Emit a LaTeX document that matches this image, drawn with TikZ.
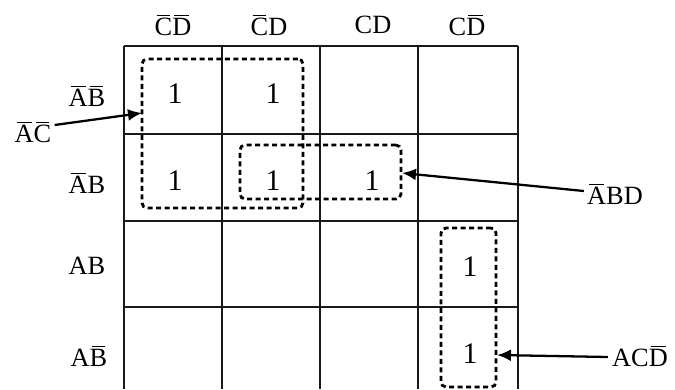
\documentclass[tikz,border=0pt]{standalone}
\usepackage{fontspec}
\setmainfont{Liberation Serif}
\usetikzlibrary{arrows.meta}
\newcommand{\nb}[1]{\hbox{\kern0.07em$\overline{\mbox{\kern-0.07em#1\kern-0.07em}}$\kern0.07em}}
\tikzset{
    kgrid/.style={line width=1.3pt, black!90},
    kone/.style={font=\fontsize{17}{17}\selectfont, inner sep=0pt},
    klab/.style={font=\fontsize{15}{15}\selectfont, inner sep=0pt},
    kgroup/.style={draw, line width=1.6pt, dash pattern=on 0.1cm off 0.07cm, rounded corners=0.1cm, inner sep=0pt},
    karrow/.style={-{Latex[length=2.8mm, width=2.4mm]}, line width=1.3pt}
}
\begin{document}
\begin{tikzpicture}[x=0.02cm, y=-0.02cm, line cap=butt]
    \useasboundingbox (0,0) rectangle (675,389);

    % map grid
    \draw[kgrid] (124,46) -- (518,46);
    \foreach \y in {134,221,307}
        \draw[kgrid] (124,\y) -- (518,\y);
    \foreach \x in {124,222,320,418,518}
        \draw[kgrid] (\x,46) -- (\x,389);

    % column and row labels
    \node[klab] (cdOO) at (173,25) {\nb{C}\nb{D}};
    \node[klab] (cdOI) at (269,25) {\nb{C}D};
    \node[klab] (cdII) at (373,25) {CD};
    \node[klab] (cdIO) at (467,25) {C\nb{D}};
    \node[klab] (abOO) at (87,96) {\nb{A}\nb{B}};
    \node[klab] (abOI) at (87,183) {\nb{A}B};
    \node[klab] (abII) at (87,266) {AB};
    \node[klab] (abIO) at (89,356) {A\nb{B}};

    % ones
    \node[kone] (m0) at (175,94) {1};
    \node[kone] (m1) at (273,94) {1};
    \node[kone] (m4) at (175,181) {1};
    \node[kone] (m5) at (273,181) {1};
    \node[kone] (m7) at (372,181) {1};
    \node[kone] (m14) at (470,267) {1};
    \node[kone] (m10) at (470,354) {1};

    % groups
    \node[kgroup, minimum width=3.22cm, minimum height=2.98cm] (gAC) at (222.5,133.5) {};
    \node[kgroup, minimum width=3.22cm, minimum height=1.08cm] (gABD) at (320.5,172) {};
    \node[kgroup, minimum width=1.10cm, minimum height=3.18cm] (gACD) at (468.5,307.5) {};

    % group names
    \node[klab] (nAC) at (33,132) {\nb{A}\nb{C}};
    \node[klab] (nABD) at (615,194) {\nb{A}BD};
    \node[klab] (nACD) at (640,356) {AC\nb{D}};

    \coordinate (tAC) at (142,113);
    \coordinate (tABD) at (402,173);
    \coordinate (tACD) at (497,355);
    \draw[karrow] (nAC.east) ++(3,-7) -- (tAC);
    \draw[karrow] (nABD.west) ++(-3,-3) -- (tABD);
    \draw[karrow] (nACD.west) ++(-4,1) -- (tACD);
\end{tikzpicture}
\end{document}
